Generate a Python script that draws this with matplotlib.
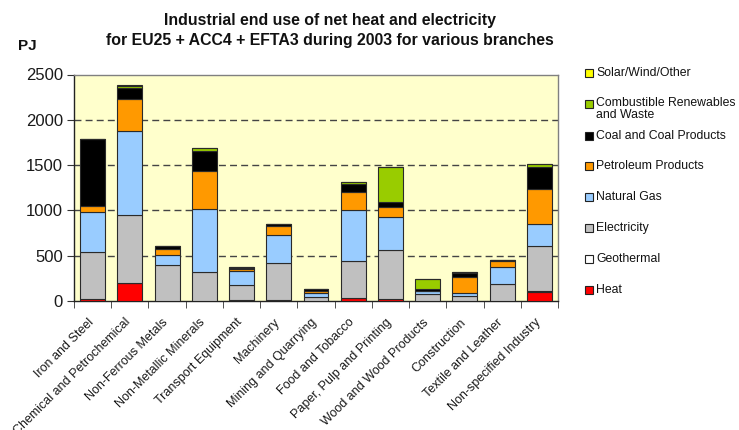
import matplotlib
matplotlib.use("Agg")
import matplotlib.pyplot as plt
import numpy as np
from matplotlib.patches import Rectangle
from matplotlib.transforms import ScaledTranslation

plt.rcParams['font.family'] = ['Liberation Sans', 'DejaVu Sans']

categories = ["Iron and Steel", "Chemical and Petrochemical", "Non-Ferrous Metals",
              "Non-Metallic Minerals", "Transport Equipment", "Machinery",
              "Mining and Quarrying", "Food and Tobacco", "Paper, Pulp and Printing",
              "Wood and Wood Products", "Construction", "Textile and Leather",
              "Non-specified Industry"]

heat        = [20, 198, 5, 5, 15, 15, 3, 29, 26, 2, 3, 5, 103]
geothermal  = [0, 0, 0, 0, 0, 0, 0, 0, 0, 0, 0, 0, 10]
electricity = [525, 756, 388, 318, 165, 403, 45, 408, 532, 75, 48, 186, 489]
natural_gas = [435, 918, 117, 694, 154, 305, 35, 565, 374, 37, 41, 180, 249]
petroleum   = [66, 363, 59, 422, 15, 106, 30, 198, 103, 0, 172, 66, 389]
coal        = [738, 121, 36, 216, 18, 22, 15, 88, 55, 22, 48, 14, 235]
combustible = [0, 22, 0, 33, 3, 3, 3, 29, 385, 110, 3, 3, 41]
solar       = [0, 3, 0, 0, 0, 0, 0, 0, 0, 0, 0, 0, 0]

series_names = ["Heat", "Geothermal", "Electricity", "Natural Gas", "Petroleum Products",
                "Coal and Coal Products", "Combustible Renewables\nand Waste",
                "Solar/Wind/Other"]
series_vals = [heat, geothermal, electricity, natural_gas, petroleum, coal, combustible, solar]
colors = ["#FF0000", "#FFFFFF", "#C0C0C0", "#99CCFF", "#FF9900", "#000000", "#99CC00", "#FFFF00"]

y_ticks = [0, 500, 1000, 1500, 2000, 2500]

fig = plt.figure(figsize=(7.39, 4.30), dpi=100)
ax = fig.add_axes([74/739, 1 - 301/430, (558 - 74)/739, (301 - 74.5)/430])
ax.set_facecolor("#FFFFCC")

x = np.arange(len(categories))
bottom = np.zeros(len(categories))
for name, vals, c in zip(series_names, series_vals, colors):
    v = np.array(vals, dtype=float)
    ax.bar(x, v, bottom=bottom, width=0.67, color=c, edgecolor="#2a2a2a",
           linewidth=0.8, zorder=3)
    bottom += v

ax.set_xlim(-0.5, len(categories) - 0.5)
ax.set_ylim(0, 2500)
ax.set_yticks(y_ticks)
ax.set_yticklabels([str(t) for t in y_ticks], fontsize=12, color="#1a1a1a")
for t in y_ticks[1:-1]:
    ax.axhline(t, color="#444444", linestyle=(0, (5, 3)), linewidth=1.0, zorder=1)

ax.set_xticks(x)
ax.set_xticklabels(categories, rotation=45, ha="right", va="top", rotation_mode="anchor",
                   fontsize=9.0, color="#1a1a1a")
ax.tick_params(axis="x", length=0, pad=11)
shift = ScaledTranslation(-5/100, 0, fig.dpi_scale_trans)
for lbl in ax.get_xticklabels():
    lbl.set_transform(lbl.get_transform() + shift)
ax.set_xticks(np.arange(len(categories) + 1) - 0.5, minor=True)
ax.tick_params(axis="x", which="minor", length=5, direction="out", color="#333333")
ax.tick_params(axis="y", length=5, direction="out", color="#333333", pad=3)

for side in ["top", "right"]:
    ax.spines[side].set_color("#808080")
    ax.spines[side].set_linewidth(1.0)
for side in ["left", "bottom"]:
    ax.spines[side].set_color("#222222")
    ax.spines[side].set_linewidth(1.0)

fig.text(330/739, 1 - 21/430, "Industrial end use of net heat and electricity",
         ha="center", va="center", fontsize=11.4, fontweight="bold", color="#111111")
fig.text(330/739, 1 - 41/430, "for EU25 + ACC4 + EFTA3 during 2003 for various branches",
         ha="center", va="center", fontsize=11.4, fontweight="bold", color="#111111")
fig.text(27/739, 1 - 46/430, "PJ", ha="center", va="center", fontsize=11,
         fontweight="bold", color="#111111")

# legend (top entry = last series)
leg_y = [290, 259, 228, 197, 166, 136, 104, 73]
for name, c, yy in zip(series_names, colors, leg_y):
    fig.patches.append(Rectangle((585 / 739, 1 - (yy + 4) / 430), 8 / 739, 8 / 430,
                                 transform=fig.transFigure, facecolor=c,
                                 edgecolor="#222222", linewidth=0.8))
    if "\n" in name:
        fig.text(596 / 739, 1 - (yy - 7) / 430, name, ha="left", va="top",
                 fontsize=8.8, color="#111111", linespacing=1.05)
    else:
        fig.text(596 / 739, 1 - yy / 430, name, ha="left", va="center",
                 fontsize=8.8, color="#111111")

fig.savefig("out.png", dpi=100)
